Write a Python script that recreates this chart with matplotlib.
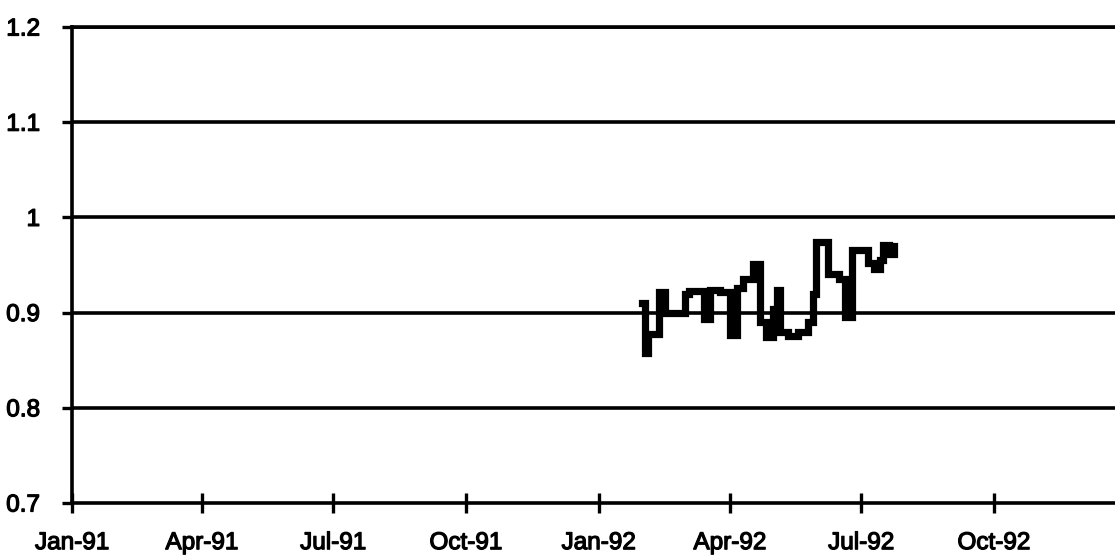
import matplotlib
matplotlib.use("Agg")
import matplotlib.pyplot as plt
import matplotlib.patheffects as pe
import datetime as dt

# Step series (date, value)
dates = ["1992-01-31", "1992-02-02", "1992-02-04", "1992-02-12", "1992-02-16",
         "1992-02-19", "1992-03-01", "1992-03-04", "1992-03-14", "1992-03-18",
         "1992-03-25", "1992-04-01", "1992-04-06", "1992-04-10", "1992-04-17",
         "1992-04-22", "1992-04-26", "1992-05-01", "1992-05-04", "1992-05-06",
         "1992-05-11", "1992-05-18", "1992-05-25", "1992-05-29", "1992-05-31",
         "1992-06-02", "1992-06-08", "1992-06-16", "1992-06-20", "1992-06-25",
         "1992-07-06", "1992-07-10", "1992-07-14", "1992-07-16", "1992-07-20",
         "1992-07-24"]
values = [0.91, 0.858, 0.877, 0.922, 0.90,
          0.90, 0.92, 0.923, 0.893, 0.924,
          0.922, 0.876, 0.926, 0.935, 0.951,
          0.89, 0.874, 0.904, 0.924, 0.88,
          0.875, 0.88, 0.89, 0.92, 0.974,
          0.974, 0.941, 0.935, 0.895, 0.966,
          0.952, 0.946, 0.955, 0.971, 0.962,
          0.97]

tick_dates = ["1991-01-01", "1991-04-01", "1991-07-01", "1991-10-01",
              "1992-01-01", "1992-04-01", "1992-07-01", "1992-10-01"]
tick_labels = ["Jan-91", "Apr-91", "Jul-91", "Oct-91",
               "Jan-92", "Apr-92", "Jul-92", "Oct-92"]
y_ticks = [0.7, 0.8, 0.9, 1.0, 1.1, 1.2]
y_labels = ["0.7", "0.8", "0.9", "1", "1.1", "1.2"]

plt.rcParams["font.family"] = ["Liberation Sans", "DejaVu Sans"]

fig = plt.figure(figsize=(11.15, 5.59), dpi=100)
ax = fig.add_axes([72/1115, 1 - 503/559, 1 - 72/1115, (503 - 27)/559])

x = [dt.datetime.strptime(d, "%Y-%m-%d") for d in dates]
ax.step(x, values, where="post", color="black", lw=5.2, solid_joinstyle="miter", zorder=3)

for yv in y_ticks[1:]:
    ax.axhline(yv, color="black", lw=2.6, zorder=2)

ax.set_ylim(0.7, 1.2)
ax.set_xlim(dt.datetime(1991, 1, 1), dt.datetime(1991, 1, 1) + dt.timedelta(days=723))

ax.set_yticks(y_ticks)
ax.set_yticklabels(y_labels, fontsize=17.5)
ax.set_xticks([dt.datetime.strptime(d, "%Y-%m-%d") for d in tick_dates])
ax.set_xticklabels(tick_labels, fontsize=17.5)

thick = [pe.withStroke(linewidth=0.9, foreground="black")]
for lab in ax.get_xticklabels() + ax.get_yticklabels():
    lab.set_path_effects(thick)

ax.tick_params(axis="y", direction="out", length=7, width=2.4, pad=16)
ax.tick_params(axis="x", direction="inout", length=14, width=2.4, pad=14)

ax.spines["right"].set_visible(False)
for s in ["left", "bottom", "top"]:
    ax.spines[s].set_linewidth(2.6)

fig.savefig("out.png", dpi=100)
